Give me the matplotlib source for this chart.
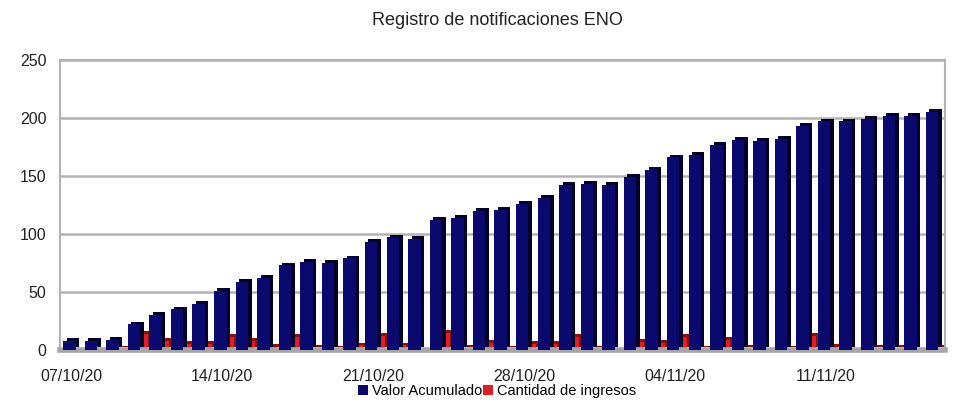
import matplotlib
matplotlib.use('Agg')
import matplotlib.pyplot as plt
import matplotlib.patheffects as pe
import numpy as np

plt.rcParams['font.family'] = ['Liberation Sans', 'DejaVu Sans']

# valores (07/10/20 a 16/11/20)
valor_acumulado = [8, 8, 9, 22, 30, 35, 40, 51, 59, 62, 73, 76, 75,
                   79, 93, 97, 96, 112, 114, 120, 121, 126, 131, 142, 143, 142,
                   149, 155, 166, 168, 177, 181, 180, 182, 193, 197, 197, 199,
                   202, 202, 205]
cantidad_ingresos = [0, 0, 1, 14, 8, 5, 5, 11, 8, 3, 11, 2, 1,
                     4, 12, 4, 0, 15, 2, 6, 1, 5, 5, 11, 1, 0,
                     7, 6, 11, 1, 9, 2, 0, 1, 12, 3, 0, 2,
                     2, 0, 2]
tick_pos = [0, 7, 14, 21, 28, 35]
tick_labels = ['07/10/20', '14/10/20', '21/10/20', '28/10/20', '04/11/20', '11/11/20']

x = np.arange(len(valor_acumulado))

fig = plt.figure(figsize=(9.56, 4.07), dpi=100)
ax = fig.add_axes([0.063, 0.14, 0.925, 0.713])

blue = '#0a0a6e'
red = '#e01e24'

ax.bar(x + 0.3, cantidad_ingresos, width=0.5, color=red, zorder=2,
       label='Cantidad de ingresos',
       path_effects=[pe.SimplePatchShadow(offset=(2.5, 2), shadow_rgbFace='#8a1010', alpha=1), pe.Normal()])
ax.bar(x - 0.08, valor_acumulado, width=0.58, color=blue, zorder=3,
       label='Valor Acumulado',
       path_effects=[pe.SimplePatchShadow(offset=(2.5, 2), shadow_rgbFace='#02022a', alpha=1), pe.Normal()])

ax.set_xlim(-0.5, len(x) - 0.5)
ax.set_ylim(0, 250)
ax.set_yticks(range(0, 251, 50))
ax.set_xticks(tick_pos)
ax.set_xticklabels(tick_labels)
ax.tick_params(length=0, labelsize=11.5, colors='#222222')
ax.tick_params(axis='y', pad=10)
ax.tick_params(axis='x', pad=14)
ax.grid(axis='y', color='#b3b3b3', linewidth=1.8, zorder=0)
ax.set_axisbelow(True)
for s in ['top', 'right', 'left']:
    ax.spines[s].set_color('#b3b3b3')
    ax.spines[s].set_linewidth(1.5)
ax.spines['bottom'].set_color('#a6a6a6')
ax.spines['bottom'].set_linewidth(4)

fig.suptitle('Registro de notificaciones ENO', x=0.52, y=0.97, fontsize=13, color='#222222')

h, l = ax.get_legend_handles_labels()
leg = fig.legend(h[::-1], l[::-1], loc='lower center', bbox_to_anchor=(0.52, -0.01), ncol=2,
                 frameon=False, fontsize=10.5, handlelength=0.7, handleheight=0.7,
                 handletextpad=0.3, columnspacing=0.0)
for hd in leg.legend_handles:
    hd.set_path_effects([])

fig.savefig('out.png', dpi=100)
